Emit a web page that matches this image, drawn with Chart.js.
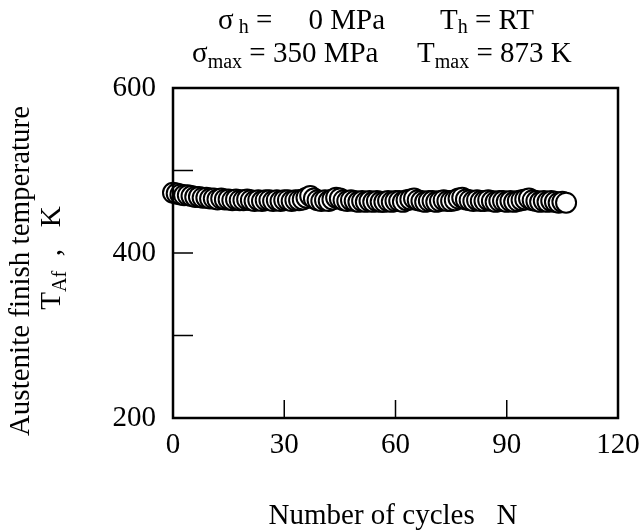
<!DOCTYPE html>
<html>
<head>
<meta charset="utf-8">
<script src="https://cdn.jsdelivr.net/npm/chart.js@4.4.0/dist/chart.umd.min.js"></script>
<style>
  html, body { margin: 0; padding: 0; background: #fff; }
  #wrap { width: 644px; height: 531px; }
</style>
</head>
<body>
<div id="wrap"><canvas id="afChart"></canvas></div>
<script>
// Numero de ciclos y temperatura Af
const cycles = [0, 1, 2, 3, 4, 5, 6, 7, 8, 9, 10,
    11, 12, 13, 14, 15, 16, 17, 18, 19, 20,
    21, 22, 23, 24, 25, 26, 27, 28, 29, 30,
    31, 32, 33, 34, 35, 36, 37, 38, 39, 40,
    41, 42, 43, 44, 45, 46, 47, 48, 49, 50,
    51, 52, 53, 54, 55, 56, 57, 58, 59, 60,
    61, 62, 63, 64, 65, 66, 67, 68, 69, 70,
    71, 72, 73, 74, 75, 76, 77, 78, 79, 80,
    81, 82, 83, 84, 85, 86, 87, 88, 89, 90,
    91, 92, 93, 94, 95, 96, 97, 98, 99, 100,
    101, 102, 103, 104, 105, 106];
const tempAf = [473, 472, 471, 470, 470, 469, 468, 468, 467, 467, 466,
    466, 465, 466, 465, 465, 464, 465, 464, 464, 465,
    464, 463, 464, 463, 464, 464, 463, 464, 463, 464,
    464, 463, 464, 464, 465, 467, 469, 466, 464, 463,
    464, 463, 465, 467, 466, 464, 463, 464, 463, 462,
    463, 462, 463, 462, 463, 462, 462, 463, 462, 463,
    463, 462, 464, 465, 466, 464, 463, 462, 463, 463,
    462, 463, 464, 463, 463, 464, 466, 467, 465, 464,
    463, 464, 463, 463, 464, 463, 462, 463, 463, 462,
    463, 462, 463, 464, 465, 466, 464, 463, 462, 463,
    462, 463, 462, 461, 462, 461];

// Marcas de los ejes
const xTickLabels = [0, 30, 60, 90, 120];
const yTickLabels = [200, 400, 600];
const xInnerTicks = [30, 60, 90];
const yInnerTicks = [300, 400, 500];

const serif = '"Liberation Serif", "Times New Roman", serif';
const big = 29, small = 20;

// Texto con subindices: partes [texto, tamaño, desplazamiento]
function richWidth(ctx, parts) {
    let w = 0;
    parts.forEach(p => { ctx.font = p[1] + 'px ' + serif; w += ctx.measureText(p[0]).width; });
    return w;
}
function richText(ctx, x, y, parts) {
    let cx = x;
    parts.forEach(p => {
        ctx.font = p[1] + 'px ' + serif;
        ctx.fillText(p[0], cx, y + (p[2] || 0));
        cx += ctx.measureText(p[0]).width;
    });
}

const framePlugin = {
    id: 'frame',
    afterDraw(chart) {
        const ctx = chart.ctx;
        const a = chart.chartArea;
        const xs = chart.scales.x, ys = chart.scales.y;
        ctx.save();
        ctx.strokeStyle = '#000';
        ctx.lineWidth = 2.5;
        ctx.strokeRect(a.left, a.top, a.right - a.left, a.bottom - a.top);

        // marcas hacia dentro
        ctx.lineWidth = 1.5;
        ctx.beginPath();
        xInnerTicks.forEach(v => {
            const px = xs.getPixelForValue(v);
            ctx.moveTo(px, a.bottom);
            ctx.lineTo(px, a.bottom - 18);
        });
        yInnerTicks.forEach(v => {
            const py = ys.getPixelForValue(v);
            ctx.moveTo(a.left, py);
            ctx.lineTo(a.left + 20, py);
        });
        ctx.stroke();

        // titulo de dos lineas
        ctx.fillStyle = '#000';
        ctx.textBaseline = 'alphabetic';
        ctx.textAlign = 'left';
        richText(ctx, 218, 29, [['σ', big], [' h', small, 4], [' =     0 MPa', big]]);
        richText(ctx, 440, 29, [['T', big], ['h', small, 4], [' = RT', big]]);
        richText(ctx, 192, 62, [['σ', big], ['max', small, 6], [' = 350 MPa', big]]);
        richText(ctx, 417, 62, [['T', big], ['max', small, 6], [' = 873 K', big]]);

        // titulo eje y (girado)
        ctx.save();
        ctx.translate(21, 271);
        ctx.rotate(-Math.PI / 2);
        ctx.textBaseline = 'middle';
        ctx.textAlign = 'center';
        ctx.font = big + 'px ' + serif;
        ctx.fillText('Austenite finish temperature', 0, 0);
        ctx.restore();

        ctx.save();
        ctx.translate(60, 258);
        ctx.rotate(-Math.PI / 2);
        ctx.textBaseline = 'alphabetic';
        ctx.textAlign = 'left';
        const yParts = [['T', big], ['Af', small, 6], ['  ,   K', big]];
        richText(ctx, -richWidth(ctx, yParts) / 2, 0, yParts);
        ctx.restore();

        // titulo eje x
        ctx.textAlign = 'center';
        ctx.textBaseline = 'middle';
        ctx.font = big + 'px ' + serif;
        ctx.fillText('Number of cycles   N', 393, 516);
        ctx.restore();
    }
};

const ctx = document.getElementById('afChart').getContext('2d');
new Chart(ctx, {
    type: 'scatter',
    data: {
        datasets: [{
            data: cycles.map((n, i) => ({ x: n, y: tempAf[i] })),
            pointRadius: 10,
            pointHoverRadius: 10,
            pointBackgroundColor: '#fff',
            pointBorderColor: '#000',
            pointBorderWidth: 2,
            showLine: false,
            clip: false
        }]
    },
    options: {
        responsive: true,
        maintainAspectRatio: false,
        animation: false,
        layout: { padding: { left: 0, top: 88, right: 26, bottom: 0 } },
        plugins: {
            legend: { display: false },
            tooltip: { enabled: false }
        },
        scales: {
            x: {
                type: 'linear',
                min: 0,
                max: 120,
                afterBuildTicks: s => { s.ticks = xTickLabels.map(v => ({ value: v })); },
                afterFit: s => { s.height = 113; s.paddingRight = 0; },
                grid: { display: false, drawTicks: false },
                border: { display: false },
                ticks: { color: '#000', padding: 10, maxRotation: 0, font: { family: serif, size: big } }
            },
            y: {
                min: 200,
                max: 600,
                afterBuildTicks: s => { s.ticks = yTickLabels.map(v => ({ value: v })); },
                afterFit: s => { s.width = 173; },
                grid: { display: false, drawTicks: false },
                border: { display: false },
                ticks: { color: '#000', padding: 17, font: { family: serif, size: big } }
            }
        }
    },
    plugins: [framePlugin]
});
</script>
</body>
</html>
